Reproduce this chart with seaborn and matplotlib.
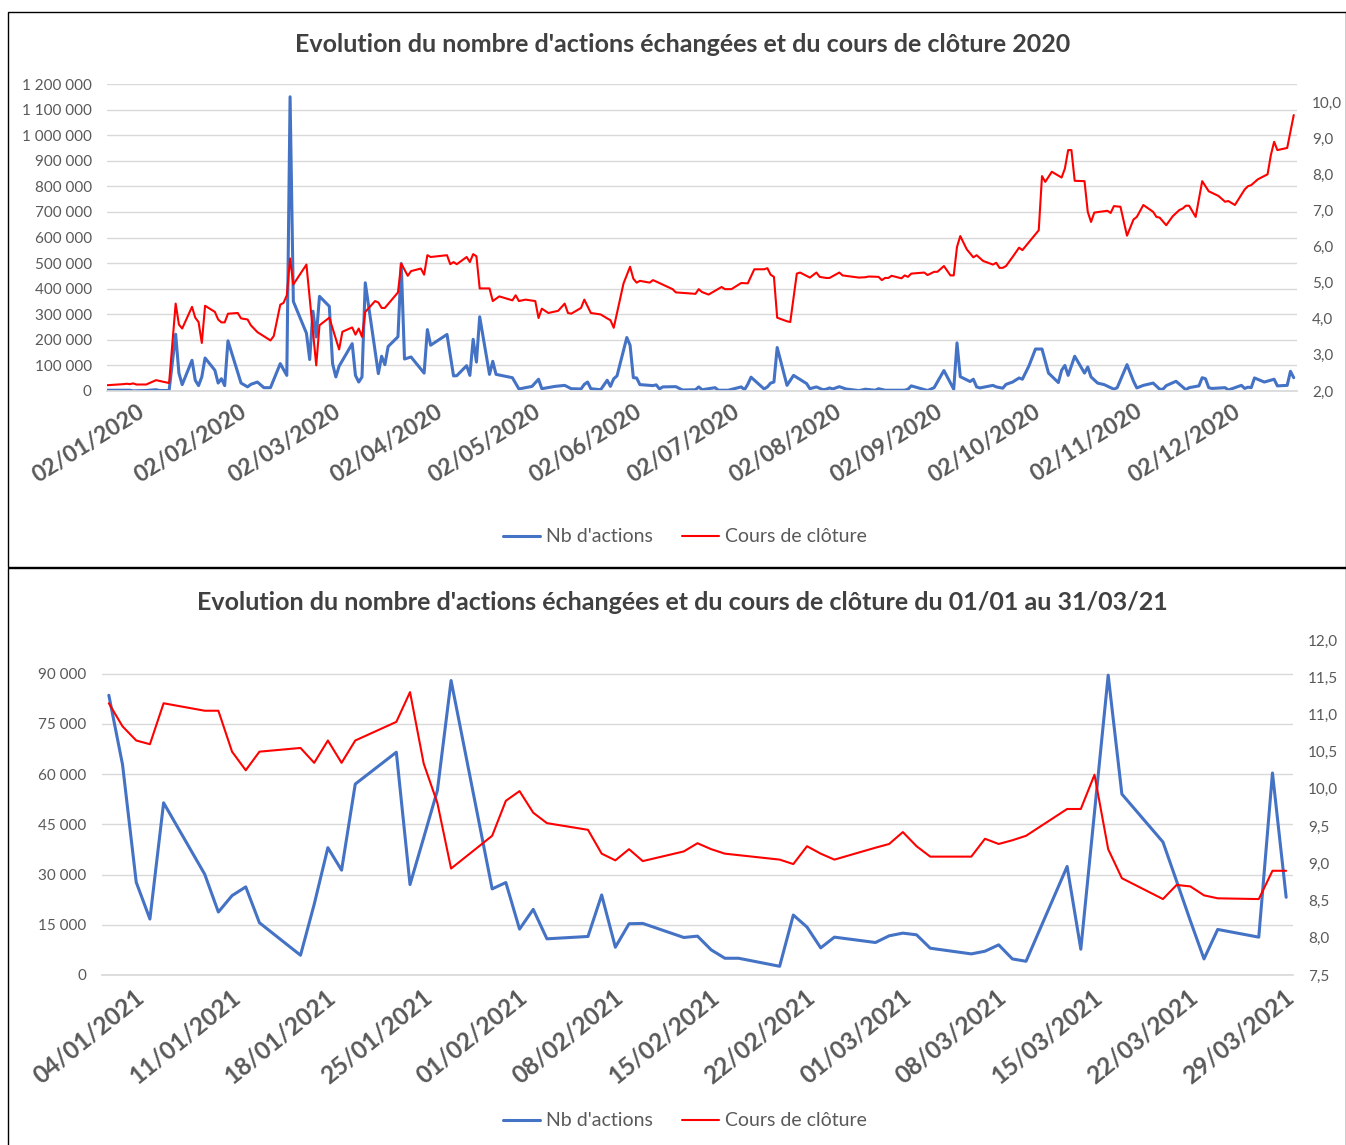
import matplotlib
matplotlib.use("Agg")
import matplotlib.pyplot as plt
import matplotlib.transforms as mtransforms
from matplotlib.patches import Rectangle
from matplotlib.ticker import FuncFormatter, MultipleLocator
import pandas as pd
import seaborn as sns

# 2020 : sommets (mois-jour)
jours_nb_2020 = [
    "01-02", "01-09", "01-10", "01-14", "01-17", "01-18", "01-21", "01-23", "01-24", "01-25",
    "01-28", "01-29", "01-30", "01-31", "02-01", "02-04", "02-05", "02-06", "02-07", "02-08",
    "02-12", "02-14", "02-15", "02-17", "02-19", "02-21", "02-24", "02-26", "02-27", "02-28",
    "03-03", "03-04", "03-05", "03-06", "03-07", "03-10", "03-11", "03-12", "03-13", "03-17",
    "03-18", "03-19", "03-20", "03-21", "03-25", "03-26", "03-27", "03-28", "03-31", "04-01",
    "04-02", "04-04", "04-08", "04-09", "04-10", "04-15", "04-17", "04-18", "04-21", "04-22",
    "04-23", "04-24", "04-25", "04-28", "04-29", "04-30", "05-05", "05-07", "05-11", "05-13",
    "05-14", "05-18", "05-21", "05-23", "05-26", "05-27", "05-28", "05-29", "06-01", "06-03",
    "06-04", "06-05", "06-06", "06-09", "06-10", "06-11", "06-12", "06-13", "06-17", "06-18",
    "06-19", "06-20", "06-24", "06-26", "06-30", "07-01", "07-02", "07-06", "07-07", "07-10",
    "07-14", "07-15", "07-16", "07-17", "07-21", "07-22", "07-23", "07-24", "07-25", "07-28",
    "07-30", "08-03", "08-04", "08-06", "08-08", "08-09", "08-10", "08-11", "08-13", "08-15",
    "08-19", "08-21", "08-24", "08-25", "08-27", "09-02", "09-03", "09-04", "09-09", "09-11",
    "09-14", "09-17", "09-18", "09-19", "09-22", "09-23", "09-24", "09-25", "09-29", "09-30",
    "10-02", "10-03", "10-05", "10-07", "10-08", "10-10", "10-12", "10-14", "10-16", "10-19",
    "10-20", "10-21", "10-22", "10-24", "10-27", "10-28", "10-29", "10-31", "11-02", "11-05",
    "11-06", "11-09", "11-11", "11-12", "11-14", "11-17", "11-19", "11-20", "11-21", "11-24",
    "11-27", "11-28", "12-01", "12-02", "12-03", "12-04", "12-05", "12-09", "12-10", "12-14",
    "12-15", "12-16", "12-17", "12-18", "12-21", "12-24", "12-25", "12-28", "12-29", "12-30",
]
nb_2020 = [
    3000, 3000, 500, 2000, 5000, 2000, 2000, 222000, 70000, 25000,
    120000, 42000, 21000, 55000, 129000, 81000, 31000, 48000, 21000, 196000,
    31000, 16000, 26000, 35000, 13000, 13000, 107000, 61000, 1150000, 350000,
    226000, 123000, 312000, 211000, 370000, 331000, 107000, 55000, 97000, 185000,
    61000, 35000, 55000, 423000, 68000, 136000, 103000, 174000, 212000, 498000,
    125000, 133000, 70000, 240000, 179000, 221000, 59000, 60000, 99000, 61000,
    202000, 113000, 290000, 65000, 116000, 65000, 52000, 8000, 18000, 46000,
    9000, 18000, 22000, 9000, 8000, 26000, 35000, 9000, 5000, 42000,
    18000, 48000, 59000, 209000, 179000, 52000, 51000, 25000, 21000, 24000,
    8000, 16000, 17000, 4000, 5000, 16000, 5000, 13000, 3000, 3000,
    16000, 5000, 26000, 54000, 8000, 16000, 31000, 35000, 170000, 22000,
    61000, 29000, 9000, 16000, 5000, 7000, 12000, 8000, 17000, 8000,
    1500, 7000, 3000, 9000, 3000, 3000, 7000, 20000, 2000, 13000,
    80000, 7000, 188000, 56000, 37000, 46000, 16000, 12000, 22000, 16000,
    11000, 26000, 35000, 51000, 46000, 98000, 164000, 164000, 70000, 33000,
    81000, 100000, 61000, 136000, 70000, 94000, 55000, 31000, 25000, 7000,
    13000, 103000, 38000, 12000, 22000, 31000, 7000, 7000, 21000, 38000,
    5000, 13000, 20000, 52000, 48000, 13000, 10000, 13000, 4000, 22000,
    10000, 15000, 13000, 51000, 35000, 46000, 20000, 22000, 77000, 52000,
]
jours_cours_2020 = [
    "01-02", "01-07", "01-08", "01-09", "01-10", "01-11", "01-14", "01-17", "01-18", "01-21",
    "01-23", "01-24", "01-25", "01-28", "01-29", "01-30", "01-31", "02-01", "02-04", "02-05",
    "02-06", "02-07", "02-08", "02-11", "02-12", "02-14", "02-15", "02-17", "02-21", "02-22",
    "02-24", "02-25", "02-26", "02-27", "02-28", "03-03", "03-06", "03-07", "03-10", "03-12",
    "03-13", "03-14", "03-15", "03-17", "03-18", "03-19", "03-20", "03-21", "03-24", "03-25",
    "03-26", "03-27", "03-31", "04-01", "04-03", "04-04", "04-07", "04-08", "04-09", "04-10",
    "04-15", "04-16", "04-17", "04-18", "04-21", "04-22", "04-23", "04-24", "04-25", "04-28",
    "04-29", "05-01", "05-05", "05-06", "05-07", "05-09", "05-12", "05-13", "05-14", "05-16",
    "05-19", "05-21", "05-22", "05-23", "05-26", "05-27", "05-29", "06-01", "06-03", "06-04",
    "06-05", "06-06", "06-08", "06-10", "06-11", "06-12", "06-13", "06-16", "06-17", "06-18",
    "06-23", "06-24", "06-30", "07-01", "07-02", "07-04", "07-08", "07-09", "07-11", "07-14",
    "07-16", "07-18", "07-21", "07-22", "07-23", "07-24", "07-25", "07-28", "07-29", "07-31",
    "08-01", "08-04", "08-06", "08-07", "08-09", "08-10", "08-13", "08-14", "08-19", "08-21",
    "08-22", "08-25", "08-26", "08-27", "08-28", "08-29", "09-01", "09-02", "09-03", "09-04",
    "09-08", "09-09", "09-11", "09-12", "09-14", "09-16", "09-17", "09-18", "09-19", "09-21",
    "09-23", "09-24", "09-26", "09-29", "09-30", "10-01", "10-02", "10-03", "10-05", "10-07",
    "10-08", "10-13", "10-14", "10-15", "10-17", "10-20", "10-21", "10-22", "10-23", "10-24",
    "10-27", "10-28", "10-29", "10-30", "11-03", "11-04", "11-05", "11-07", "11-09", "11-11",
    "11-12", "11-14", "11-17", "11-18", "11-19", "11-21", "11-23", "11-25", "11-26", "11-27",
    "11-28", "11-30", "12-02", "12-04", "12-07", "12-09", "12-10", "12-12", "12-15", "12-16",
    "12-17", "12-19", "12-22", "12-23", "12-24", "12-25", "12-28", "12-30",
]
cours_2020 = [
    2.16, 2.19, 2.20, 2.19, 2.21, 2.18, 2.18, 2.30, 2.28, 2.22,
    4.42, 3.84, 3.73, 4.33, 4.03, 3.91, 3.33, 4.36, 4.19, 3.98,
    3.90, 3.90, 4.14, 4.16, 4.01, 3.98, 3.82, 3.63, 3.40, 3.52,
    4.39, 4.44, 4.65, 5.67, 4.95, 5.50, 2.71, 3.82, 4.03, 3.45,
    3.15, 3.64, 3.68, 3.76, 3.56, 3.73, 3.50, 4.19, 4.49, 4.45,
    4.30, 4.30, 4.73, 5.53, 5.19, 5.32, 5.39, 5.22, 5.76, 5.71,
    5.76, 5.51, 5.57, 5.51, 5.71, 5.57, 5.79, 5.73, 4.84, 4.84,
    4.49, 4.62, 4.51, 4.65, 4.49, 4.53, 4.49, 4.02, 4.28, 4.16,
    4.22, 4.42, 4.16, 4.14, 4.30, 4.53, 4.16, 4.12, 4.01, 3.96,
    3.75, 4.16, 4.98, 5.44, 5.11, 5.00, 5.05, 5.00, 5.07, 5.03,
    4.82, 4.73, 4.69, 4.82, 4.74, 4.67, 4.88, 4.82, 4.82, 4.99,
    4.98, 5.37, 5.37, 5.40, 5.22, 5.16, 4.03, 3.93, 3.91, 5.25,
    5.28, 5.14, 5.28, 5.16, 5.13, 5.13, 5.28, 5.20, 5.14, 5.15,
    5.17, 5.16, 5.07, 5.13, 5.13, 5.19, 5.12, 5.20, 5.16, 5.25,
    5.28, 5.21, 5.30, 5.30, 5.46, 5.20, 5.20, 5.99, 6.29, 5.92,
    5.70, 5.76, 5.60, 5.50, 5.55, 5.41, 5.41, 5.46, 5.71, 5.97,
    5.90, 6.45, 7.95, 7.79, 8.07, 7.91, 8.16, 8.67, 8.67, 7.82,
    7.81, 6.96, 6.68, 6.94, 6.99, 6.93, 7.12, 7.10, 6.30, 6.75,
    6.82, 7.15, 6.96, 6.82, 6.80, 6.59, 6.84, 7.01, 7.05, 7.13,
    7.13, 6.82, 7.81, 7.53, 7.40, 7.24, 7.26, 7.15, 7.58, 7.67,
    7.70, 7.86, 8.00, 8.53, 8.90, 8.67, 8.73, 9.64,
]

# 1er trimestre 2021 : jours de bourse
jours_2021 = pd.bdate_range("2021-01-04", "2021-03-31")
nb_2021 = [
    83500, 62800, 27700, 16700, 51400, 30100, 18800, 23700, 26300, 15600,
    5900, 21100, 38000, 31300, 57000, 66500, 27000, 41000, 55100, 87900,
    25700, 27600, 13700, 19600, 10800, 11500, 23900, 8300, 15300, 15400,
    11200, 11600, 7500, 5000, 5000, 2600, 17900, 14300, 8100, 11300,
    9700, 11700, 12500, 12000, 8000, 6300, 7100, 9000, 4800, 4100,
    32400, 7700, 48600, 89500, 54000, 39700, 28000, 16200, 4800, 13600,
    11300, 60300, 23200,
]
cours_2021 = [
    11.15, 10.84, 10.65, 10.60, 11.15, 11.05, 11.05, 10.50, 10.25, 10.50,
    10.55, 10.35, 10.65, 10.35, 10.65, 10.90, 11.30, 10.34, 9.81, 8.93,
    9.37, 9.84, 9.97, 9.68, 9.54, 9.45, 9.13, 9.04, 9.19, 9.03,
    9.16, 9.27, 9.19, 9.13, 9.11, 9.05, 8.99, 9.23, 9.13, 9.05,
    9.21, 9.26, 9.42, 9.23, 9.09, 9.09, 9.33, 9.26, 9.31, 9.37,
    9.73, 9.73, 10.19, 9.19, 8.80, 8.52, 8.71, 8.69, 8.57, 8.53,
    8.52, 8.90, 8.90,
]

ticks_2020 = ["2020-%02d-02" % m for m in range(1, 13)]
ticks_2021 = pd.date_range("2021-01-04", "2021-03-29", freq="7D")

BLEU = "#4472C4"
ROUGE = "#FF0000"
GRILLE = "#D9D9D9"
TEXTE = "#595959"
W, H = 1346, 1145

sns.set_theme(style="white")
plt.rcParams["font.family"] = ["Lato", "DejaVu Sans"]

fig = plt.figure(figsize=(W / 100, H / 100), dpi=100)

milliers = FuncFormatter(lambda v, p: f"{v:,.0f}".replace(",", " "))
virgule = FuncFormatter(lambda v, p: f"{v:.1f}".replace(".", ","))


def panneau(box, x_nb, y_nb, x_cours, y_cours, ylim1, step1, ylim2, step2,
            xlim, ticks, rot, xsize, dx, titre, y_titre, y_leg):
    l, t, r, b = box
    ax = fig.add_axes([l / W, 1 - b / H, (r - l) / W, (b - t) / H])
    ax2 = ax.twinx()
    sns.lineplot(x=x_nb, y=y_nb, ax=ax, color=BLEU, lw=2.2, legend=False)
    sns.lineplot(x=x_cours, y=y_cours, ax=ax2, color=ROUGE, lw=1.5, legend=False)

    ax.set_ylim(*ylim1)
    ax.yaxis.set_major_locator(MultipleLocator(step1))
    ax.yaxis.set_major_formatter(milliers)
    ax2.set_ylim(*ylim2)
    ax2.yaxis.set_major_locator(MultipleLocator(step2))
    ax2.yaxis.set_major_formatter(virgule)
    ax.set_xlim(*xlim)
    ax.set_xticks(ticks)
    ax.set_xticklabels([d.strftime("%d/%m/%Y") for d in ticks])

    ax.yaxis.grid(True, color=GRILLE, lw=1.0)
    ax.set_axisbelow(True)
    for a in (ax, ax2):
        a.set_xlabel("")
        a.set_ylabel("")
        for s in a.spines.values():
            s.set_visible(False)
    ax.spines["bottom"].set_visible(True)
    ax.spines["bottom"].set_color(GRILLE)

    ax.tick_params(axis="y", length=0, pad=11, labelsize=11, labelcolor=TEXTE)
    ax2.tick_params(axis="y", length=0, pad=11, labelsize=11, labelcolor=TEXTE)
    ax.tick_params(axis="x", length=5, width=1, color=GRILLE, pad=2,
                   labelsize=xsize, labelcolor=TEXTE)
    off = mtransforms.ScaledTranslation(dx / 72, 0, fig.dpi_scale_trans)
    for lab in ax.get_xticklabels():
        lab.set_rotation(rot)
        lab.set_ha("right")
        lab.set_va("top")
        lab.set_rotation_mode("anchor")
        lab.set_fontweight("bold")
        lab.set_transform(lab.get_transform() + off)

    fig.text(0.507, 1 - y_titre / H, titre, ha="center", va="center",
             fontsize=18, fontweight="bold", color="#404040")
    fig.legend([ax.lines[0], ax2.lines[0]], ["Nb d'actions", "Cours de clôture"],
               loc="center", bbox_to_anchor=(685 / W, 1 - y_leg / H), ncol=2,
               frameon=False, fontsize=14, labelcolor=TEXTE, handlelength=1.9,
               handletextpad=0.3, columnspacing=1.5)


x_nb = pd.to_datetime(["2020-" + j for j in jours_nb_2020])
x_cours = pd.to_datetime(["2020-" + j for j in jours_cours_2020])
panneau((107, 84, 1297, 391), x_nb, nb_2020, x_cours, cours_2020,
        (0, 1200000), 100000, (2.0, 10.5), 1.0,
        (pd.Timestamp("2020-01-02"), pd.Timestamp("2020-12-31")),
        pd.to_datetime(ticks_2020), 32, 16.5, 22,
        "Evolution du nombre d'actions échangées et du cours de clôture 2020", 45, 537)

demi = pd.Timedelta(hours=12)
panneau((102, 640, 1293, 975), jours_2021, nb_2021, jours_2021, cours_2021,
        (0, 100000), 15000, (7.5, 12.0), 0.5,
        (jours_2021[0] - demi, jours_2021[-1] + demi),
        ticks_2021, 39, 17.5, 18,
        "Evolution du nombre d'actions échangées et du cours de clôture du 01/01 au 31/03/21",
        602, 1121)

# cadres des deux graphiques
for top, bottom in ((12, 567), (568, 1150)):
    fig.add_artist(Rectangle((8 / W, 1 - bottom / H), (W - 8) / W, (bottom - top) / H,
                             transform=fig.transFigure, fill=False, ec="black", lw=1.0))

fig.savefig("out.png", dpi=100)
